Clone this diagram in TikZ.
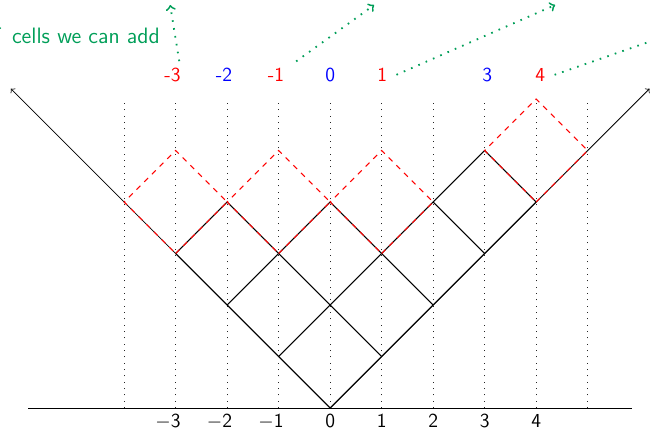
\documentclass[tikz,border=0pt]{standalone}
\usepackage{fontspec}
\definecolor{anngreen}{RGB}{0,158,88}
\tikzset{
  axisline/.style={line width=0.45pt, black},
  cellline/.style={line width=0.6pt, black},
  addcell/.style={red, dashed, line width=0.55pt},
  vdots/.style={line width=0.5pt, black!85, dash pattern=on 0.5pt off 3pt},
  annarrow/.style={anngreen, line width=1pt, dash pattern=on 0.9pt off 3.5pt, ->},
  toplab/.style={font=\fontsize{11}{13}\selectfont\sffamily, inner sep=3.5pt},
  botlab/.style={font=\fontsize{11}{13}\selectfont\sffamily, inner sep=0pt},
}
\newcommand{\hy}[1]{\makebox[0pt][r]{-}#1}
\newcommand{\mn}[1]{\makebox[0pt][r]{$-$}#1}
\begin{document}
\begin{tikzpicture}[x=1cm,y=1cm]
\useasboundingbox (-6.41,-0.408) rectangle (6.21,7.922);
\clip (-6.41,-0.408) rectangle (6.21,7.922);

% dotted verticals
\foreach \i in {-4,...,5} \draw[vdots] (\i,0) -- (\i,6);

% horizontal axis
\coordinate (o) at (0,0);
\coordinate (axl) at (-5.86,0);
\coordinate (axr) at (5.86,0);
\draw[axisline] (axl) -- (axr);

% diagonal axes
\coordinate (dl) at (-6.2,6.2);
\coordinate (dr) at (6.2,6.2);
\draw[axisline,->] (o) -- (dl);
\draw[axisline,->] (o) -- (dr);

% partition (4,2,1) in Russian convention
\draw[cellline] (0,0) -- (4,4);
\draw[cellline] (-1,1) -- (3,5);
\draw[cellline] (-2,2) -- (0,4);
\draw[cellline] (-3,3) -- (-2,4);
\draw[cellline] (0,0) -- (-3,3);
\draw[cellline] (1,1) -- (-2,4);
\draw[cellline] (2,2) -- (0,4);
\draw[cellline] (3,3) -- (2,4);
\draw[cellline] (4,4) -- (3,5);

% addable cells
\foreach \x/\y in {-3/3,-1/3,1/3,4/4}
  \draw[addcell] (\x,\y) -- (\x+1,\y+1) -- (\x,\y+2) -- (\x-1,\y+1) -- cycle;

% bottom tick labels
\foreach \i in {1,2,3}
  \node[botlab, anchor=north] (bm\i) at (-\i,-0.11) {\mn{\i}};
\foreach \i in {0,1,2,3,4}
  \node[botlab, anchor=north] (b\i) at (\i,-0.11) {\i};

% top labels
\node[toplab, red]  (tm3) at (-3.0,6.47) {\hy{3}};
\node[toplab, blue] (tm2) at (-2.0,6.47) {\hy{2}};
\node[toplab, red]  (tm1) at (-0.99,6.47) {\hy{1}};
\node[toplab, blue] (t0)  at (0,6.47) {0};
\node[toplab, red]  (t1)  at (1.01,6.47) {1};
\node[toplab, blue] (t3)  at (3.05,6.47) {3};
\node[toplab, red]  (t4)  at (4.08,6.47) {4};

% annotation
\node[anngreen, font=\fontsize{12.3}{14}\selectfont\sffamily, anchor=base east, inner sep=0pt]
  (ann) at (-3.30,7.07) {of\hspace{0.2em} cells we can add};

\coordinate (e1) at (-3.107,7.825);
\coordinate (e2) at (0.854,7.825);
\coordinate (e3) at (4.369,7.825);
\coordinate (e4) at (7.573,7.592);
\draw[annarrow] ([xshift=2pt]tm3.north) -- (e1);
\draw[annarrow] ([xshift=3pt]tm1.north east) -- (e2);
\draw[annarrow] ([xshift=1.5pt]t1.east) -- (e3);
\draw[annarrow] ([xshift=1.5pt]t4.east) -- (e4);
\end{tikzpicture}
\end{document}
